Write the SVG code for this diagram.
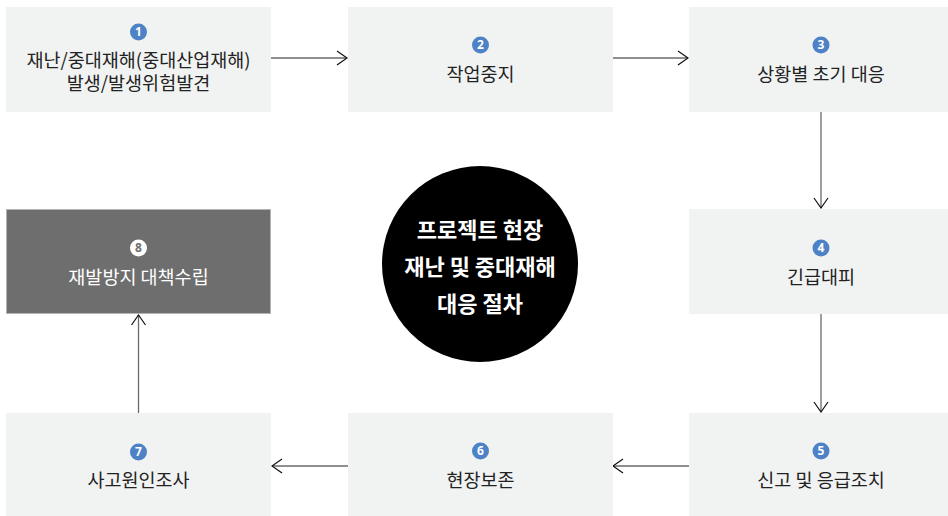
<svg xmlns="http://www.w3.org/2000/svg" width="948" height="516" viewBox="0 0 948 516">
<defs>
<style>
.box{fill:#f1f2f2}
.dark{fill:#6e6e6e;stroke:#b4b4b4;stroke-width:1}
.lbl{font-family:"Noto Sans CJK KR","Noto Sans",sans-serif;font-size:18.5px;fill:#222;text-anchor:middle}
.lblw{font-family:"Noto Sans CJK KR","Noto Sans",sans-serif;font-size:18.5px;fill:#fff;text-anchor:middle}
.bd{fill:#4d82c6}
.bdw{fill:#fff}
.num{font-family:"Noto Sans","Liberation Sans",sans-serif;font-size:12px;font-weight:bold;fill:#fff;text-anchor:middle}
.numd{font-family:"Noto Sans","Liberation Sans",sans-serif;font-size:12px;font-weight:bold;fill:#6e6e6e;text-anchor:middle}
.title{font-family:"Noto Sans CJK KR","Noto Sans",sans-serif;font-size:22px;font-weight:bold;fill:#fff;text-anchor:middle}
.conn{stroke:#6a6a6a;stroke-width:1.3;fill:none}
</style>
<marker id="ah" viewBox="0 0 12 16" refX="11" refY="8" markerWidth="12" markerHeight="16" markerUnits="userSpaceOnUse" orient="auto">
<path d="M1,1 L11,8 L1,15" fill="none" stroke="#111" stroke-width="1.2"/>
</marker>
</defs>
<rect width="948" height="516" fill="#fff"/>

<g id="connectors">
<line class="conn" x1="271" y1="58" x2="347" y2="58" marker-end="url(#ah)"/>
<line class="conn" x1="613" y1="58" x2="688" y2="58" marker-end="url(#ah)"/>
<line class="conn" x1="821" y1="112" x2="821" y2="208" marker-end="url(#ah)"/>
<line class="conn" x1="821" y1="314" x2="821" y2="412" marker-end="url(#ah)"/>
<line class="conn" x1="689" y1="466" x2="613" y2="466" marker-end="url(#ah)"/>
<line class="conn" x1="348" y1="466" x2="272" y2="466" marker-end="url(#ah)"/>
<line class="conn" x1="138.5" y1="413" x2="138.5" y2="315" marker-end="url(#ah)"/>
</g>

<g id="node1">
<rect class="box" x="6" y="7" width="265" height="105"/>
<circle class="bd" cx="138.5" cy="32" r="8.5"/>
<text class="num" x="138.5" y="36.3">1</text>
<text class="lbl" x="138.5" y="67">재난/중대재해(중대산업재해)<tspan x="138.5" dy="23">발생/발생위험발견</tspan></text>
</g>

<g id="node2">
<rect class="box" x="348" y="7" width="265" height="105"/>
<circle class="bd" cx="480.5" cy="45" r="8.5"/>
<text class="num" x="480.5" y="49.3">2</text>
<text class="lbl" x="480.5" y="81">작업중지</text>
</g>

<g id="node3">
<rect class="box" x="689" y="7" width="264" height="105"/>
<circle class="bd" cx="821" cy="45" r="8.5"/>
<text class="num" x="821" y="49.3">3</text>
<text class="lbl" x="821" y="81">상황별 초기 대응</text>
</g>

<g id="node4">
<rect class="box" x="689" y="209" width="264" height="105"/>
<circle class="bd" cx="821" cy="248" r="8.5"/>
<text class="num" x="821" y="252.3">4</text>
<text class="lbl" x="821" y="284">긴급대피</text>
</g>

<g id="node5">
<rect class="box" x="689" y="413" width="264" height="105"/>
<circle class="bd" cx="821" cy="451" r="8.5"/>
<text class="num" x="821" y="455.3">5</text>
<text class="lbl" x="821" y="487">신고 및 응급조치</text>
</g>

<g id="node6">
<rect class="box" x="348" y="413" width="265" height="105"/>
<circle class="bd" cx="480.5" cy="451" r="8.5"/>
<text class="num" x="480.5" y="455.3">6</text>
<text class="lbl" x="480.5" y="487">현장보존</text>
</g>

<g id="node7">
<rect class="box" x="6" y="413" width="265" height="105"/>
<circle class="bd" cx="138.5" cy="452" r="8.5"/>
<text class="num" x="138.5" y="456.3">7</text>
<text class="lbl" x="138.5" y="487">사고원인조사</text>
</g>

<g id="node8">
<rect class="dark" x="6.5" y="209.5" width="264" height="104"/>
<circle class="bdw" cx="138.5" cy="248" r="8.5"/>
<text class="numd" x="138.5" y="252.3">8</text>
<text class="lblw" x="138.5" y="284">재발방지 대책수립</text>
</g>

<g id="center">
<circle cx="480" cy="264" r="98" fill="#000"/>
<text class="title" x="480" y="238">프로젝트 현장<tspan x="480" dy="37">재난 및 중대재해</tspan><tspan x="480" dy="37">대응 절차</tspan></text>
</g>
</svg>
